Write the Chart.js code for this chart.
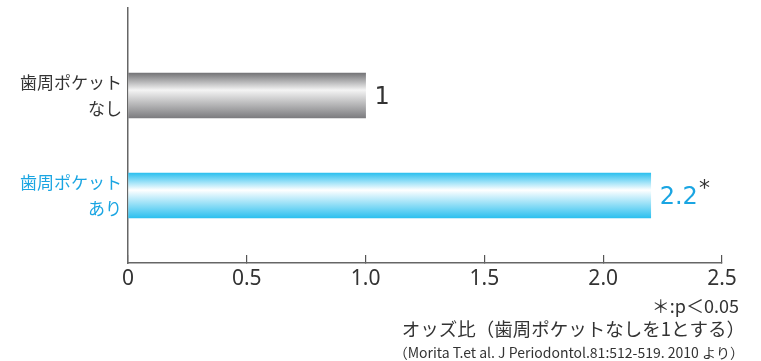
<!DOCTYPE html>
<html>
<head>
<meta charset="utf-8">
<script src="https://cdn.jsdelivr.net/npm/chart.js@4.4.1/dist/chart.umd.min.js"></script>
<style>
html, body { margin: 0; padding: 0; background: #fff; }
#wrap { width: 761px; height: 361px; }
</style>
</head>
<body>
<div id="wrap"><canvas id="odds"></canvas></div>
<script>
// datos
const categorias = [['歯周ポケット', 'なし'], ['歯周ポケット', 'あり']];
const odds = [1, 2.2];
const etiquetasValor = ['1', '2.2'];
const marcas = ['', '*'];
const ticksX = [0, 0.5, 1.0, 1.5, 2.0, 2.5];
const ticksTexto = ['0', '0.5', '1.0', '1.5', '2.0', '2.5'];
const notas = [
    '＊:p＜0.05',
    'オッズ比（歯周ポケットなしを1とする）',
    '（Morita T.et al. J Periodontol.81:512-519. 2010 より）'
];

const coloresTexto = ['#333333', '#1aa5e2'];
const coloresBarra = [
    ['#747477', '#f4f4f4', '#7c7c7f'],
    ['#2cc0ef', '#ffffff', '#2cc0ef']
];
const GROSOR = 45;
const fuenteJP = '"Noto Sans CJK JP", "Noto Sans", sans-serif';

function degradado(context) {
    const chart = context.chart;
    const y = chart.scales.y;
    const c = coloresBarra[context.dataIndex] || coloresBarra[0];
    if (!y || !chart.chartArea) return c[0];
    const centro = y.getPixelForValue(context.dataIndex);
    const g = chart.ctx.createLinearGradient(0, centro - GROSOR / 2, 0, centro + GROSOR / 2);
    g.addColorStop(0, c[0]);
    g.addColorStop(0.38, c[1]);
    g.addColorStop(1, c[2]);
    return g;
}

const etiquetas = {
    id: 'etiquetas',
    afterDatasetsDraw(chart) {
        const ctx = chart.ctx;
        const meta = chart.getDatasetMeta(0);
        meta.data.forEach((bar, i) => {
            ctx.save();
            ctx.font = '24px "DejaVu Sans", sans-serif';
            ctx.textBaseline = 'middle';
            ctx.textAlign = 'left';
            ctx.fillStyle = coloresTexto[i];
            const x = bar.x + 9;
            ctx.fillText(etiquetasValor[i], x, bar.y + 2);
            if (marcas[i]) {
                const w = ctx.measureText(etiquetasValor[i]).width;
                ctx.font = '22px "DejaVu Sans", sans-serif';
                ctx.fillStyle = '#333';
                ctx.fillText(marcas[i], x + w + 1, bar.y - 6);
            }
            ctx.restore();
        });
    }
};

const notasPie = {
    id: 'notasPie',
    afterDraw(chart) {
        const ctx = chart.ctx;
        ctx.save();
        ctx.textAlign = 'right';
        ctx.textBaseline = 'middle';
        ctx.fillStyle = '#333';
        ctx.font = '18px ' + fuenteJP;
        ctx.fillText(notas[0], 739, 306);
        ctx.font = '18.5px ' + fuenteJP;
        ctx.fillText(notas[1], 745, 329);
        ctx.font = '14px ' + fuenteJP;
        ctx.fillText(notas[2], 744, 353);
        ctx.restore();
    }
};

new Chart(document.getElementById('odds').getContext('2d'), {
    type: 'bar',
    data: {
        datasets: [{
            data: odds.map((v, i) => ({ x: v, y: i })),
            backgroundColor: degradado,
            borderWidth: 0,
            barThickness: GROSOR
        }]
    },
    options: {
        indexAxis: 'y',
        responsive: true,
        maintainAspectRatio: false,
        animation: false,
        layout: { padding: { top: 8, right: 39, left: 0, bottom: 0 } },
        plugins: {
            legend: { display: false },
            tooltip: { enabled: false }
        },
        scales: {
            x: {
                type: 'linear',
                min: 0,
                max: 2.5,
                afterBuildTicks: s => { s.ticks = ticksX.map(v => ({ value: v })); },
                afterFit: s => { s.height = 98; },
                grid: {
                    drawOnChartArea: false,
                    tickLength: -8,
                    color: '#555',
                    lineWidth: 1.2
                },
                border: { color: '#666', width: 1.5 },
                ticks: {
                    autoSkip: false,
                    maxRotation: 0,
                    padding: 11,
                    color: '#333',
                    font: { family: '"Noto Sans", sans-serif', size: 21 },
                    callback: (v, i) => ticksTexto[i]
                }
            },
            y: {
                type: 'linear',
                offset: false,
                min: -0.875,
                max: 1.675,
                reverse: true,
                afterBuildTicks: s => { s.ticks = categorias.map((c, i) => ({ value: i })); },
                afterFit: s => { s.width = 128; s.paddingTop = 0; s.paddingBottom = 0; },
                grid: { drawOnChartArea: false, drawTicks: false },
                border: { color: '#666', width: 1.5 },
                ticks: {
                    autoSkip: false,
                    padding: 6,
                    color: c => coloresTexto[c.index],
                    font: { family: fuenteJP, size: 17, lineHeight: 1.55 },
                    callback: (v, i) => categorias[i]
                }
            }
        }
    },
    plugins: [etiquetas, notasPie]
});
</script>
</body>
</html>
